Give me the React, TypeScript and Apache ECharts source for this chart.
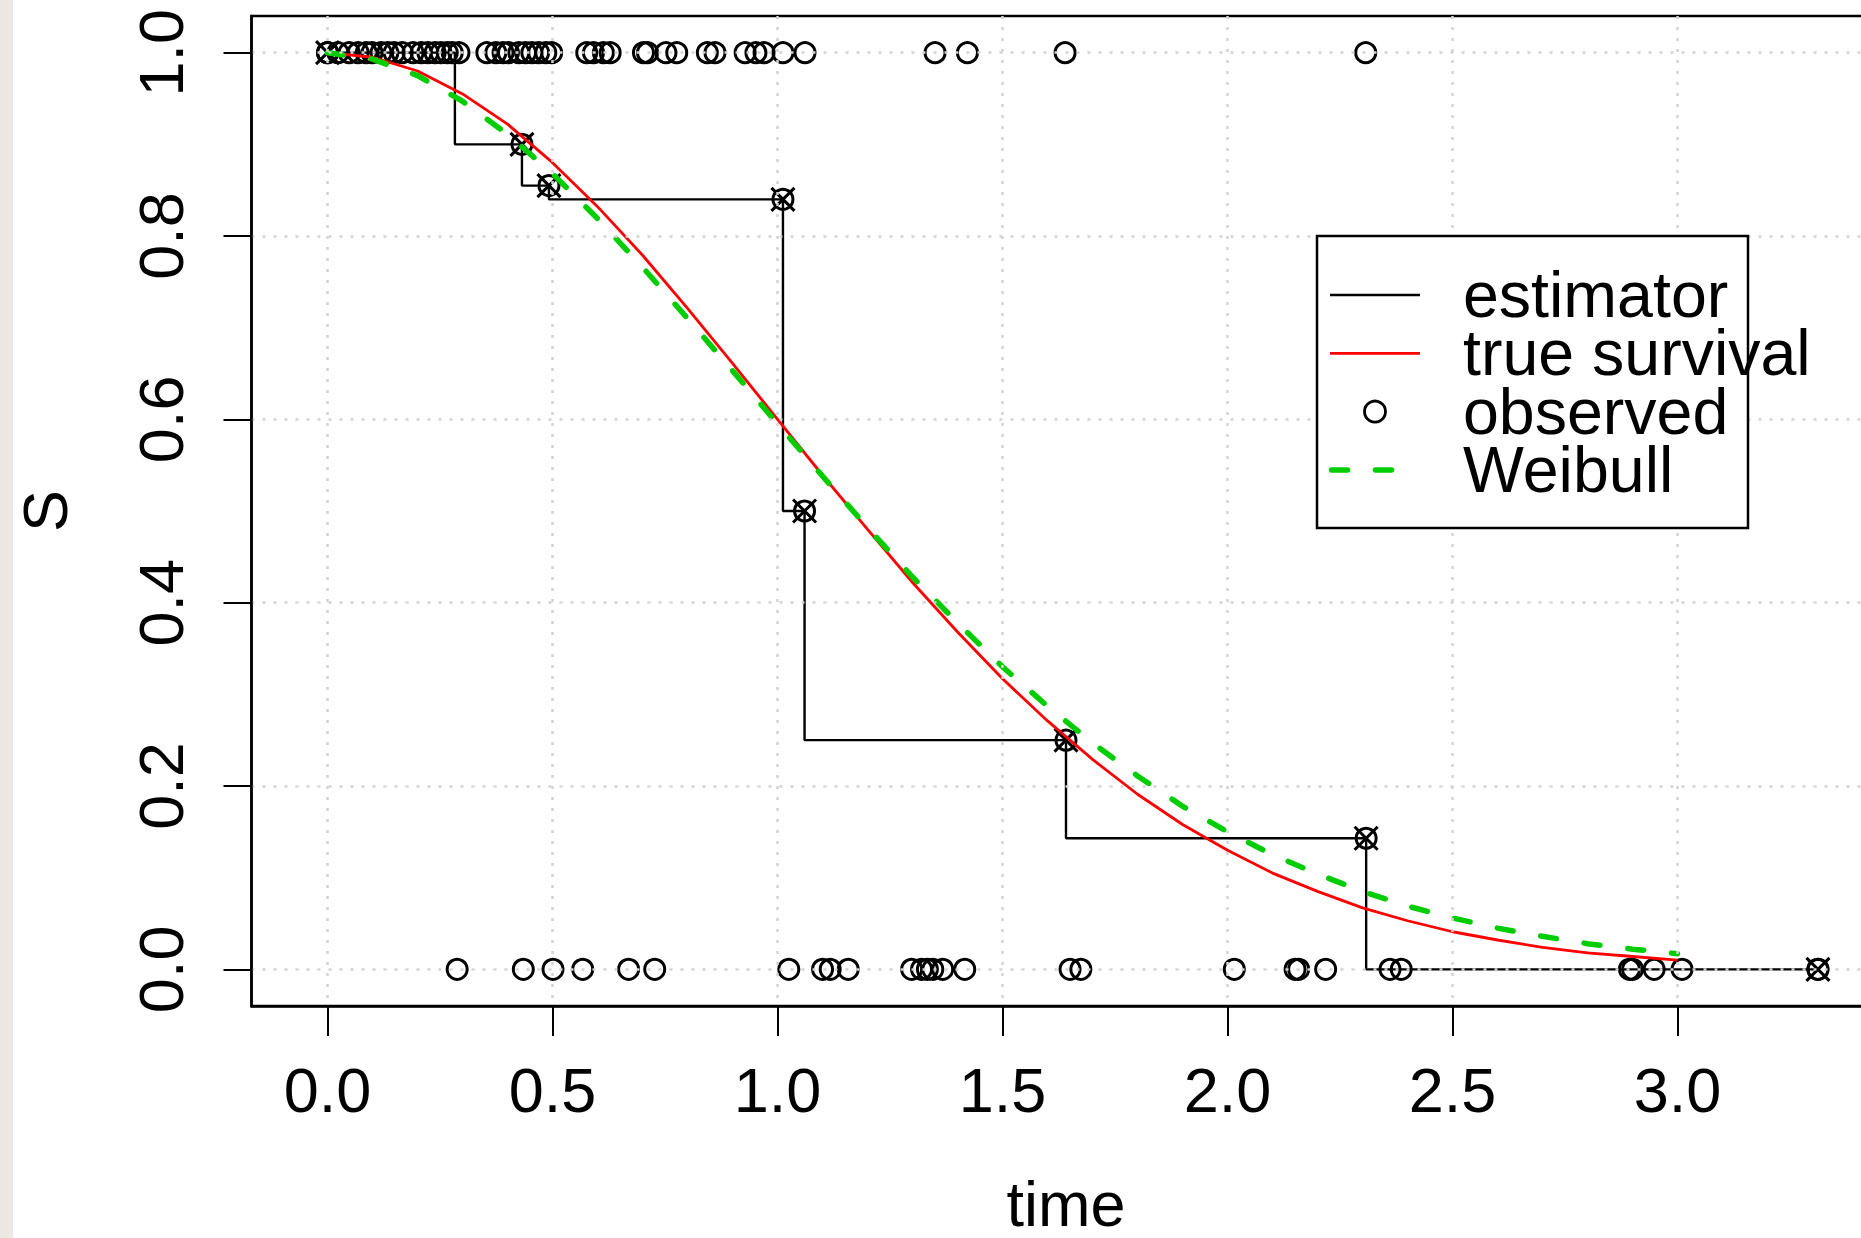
import React, { useEffect, useRef } from "react";
import * as echarts from "echarts";

// ---- data ----
const xTicks = [0, 0.5, 1.0, 1.5, 2.0, 2.5, 3.0];
const yTicks = [0, 0.2, 0.4, 0.6, 0.8, 1.0];

// estimator (step function)
const stepTimes = [0, 0.283, 0.432, 0.492, 1.012, 1.06, 1.641, 2.308, 3.312];
const stepS = [1, 0.9, 0.855, 0.84, 0.5, 0.25, 0.143, 0, 0];

// crossed markers on the estimator
const markTimes = [0, 0.432, 0.492, 1.012, 1.06, 1.641, 2.308, 3.312];
const markS = [1, 0.9, 0.855, 0.84, 0.5, 0.25, 0.143, 0];

// observed points at S = 1
const topTimes = [
  0, 0.023, 0.048, 0.068, 0.086, 0.099, 0.119, 0.134, 0.148, 0.166, 0.19, 0.208,
  0.223, 0.239, 0.252, 0.266, 0.277, 0.292, 0.354, 0.374, 0.39, 0.402, 0.425, 0.44,
  0.454, 0.469, 0.485, 0.498, 0.576, 0.591, 0.613, 0.628, 0.702, 0.711, 0.752, 0.776,
  0.844, 0.861, 0.928, 0.952, 0.97, 1.012, 1.061, 1.35, 1.422, 1.639, 2.307,
];
// observed points at S = 0
const bottomTimes = [
  0.288, 0.435, 0.501, 0.567, 0.669, 0.727, 1.025, 1.1, 1.117, 1.157, 1.298, 1.32,
  1.333, 1.345, 1.367, 1.416, 1.65, 1.674, 2.015, 2.15, 2.158, 2.218, 2.361, 2.386,
  2.893, 2.9, 2.948, 3.01, 3.312,
];

// smooth curves
const curveTimes = [
  0, 0.1, 0.2, 0.3, 0.4, 0.5, 0.6, 0.7, 0.8, 0.9, 1.0, 1.1, 1.2, 1.3, 1.4, 1.5, 1.6,
  1.7, 1.8, 1.9, 2.0, 2.1, 2.2, 2.3, 2.4, 2.5, 2.6, 2.7, 2.8, 2.9, 3.0,
];
const trueSurvival = [
  1, 0.995, 0.98, 0.955, 0.922, 0.88, 0.832, 0.779, 0.721, 0.661, 0.6, 0.539, 0.48,
  0.422, 0.368, 0.317, 0.271, 0.229, 0.191, 0.158, 0.13, 0.105, 0.085, 0.067, 0.053,
  0.041, 0.032, 0.024, 0.018, 0.014, 0.01,
];
const weibullFit = [
  1, 0.993, 0.975, 0.947, 0.911, 0.868, 0.819, 0.766, 0.71, 0.653, 0.595, 0.538,
  0.482, 0.428, 0.378, 0.33, 0.287, 0.247, 0.211, 0.178, 0.15, 0.125, 0.104, 0.085,
  0.069, 0.056, 0.045, 0.036, 0.028, 0.022, 0.017,
];

const legendLabels = ["estimator", "true survival", "observed", "Weibull"];

const FONT = "'Liberation Sans', Arial, Helvetica, sans-serif";
const FS = 63;
const LEGEND_FS = 64.5;

export default function App() {
  const ref = useRef<HTMLDivElement>(null);

  useEffect(() => {
    if (!ref.current) return;
    const chart = echarts.init(ref.current, undefined, { renderer: "svg" });

    const pairs = (xs: number[], ys: number[]) => xs.map((x, i) => [x, ys[i]]);
    const circleStyle = {
      color: "rgba(0,0,0,0)",
      borderColor: "#000",
      borderWidth: 3,
      opacity: 1,
    };

    const legendRowY = [295, 353.3, 411.6, 470];
    const rowStep = (legendRowY[3] - legendRowY[0]) / 3;
    const lx1 = 1330;
    const lx2 = 1420;

    const option: any = {
      animation: false,
      backgroundColor: "#ffffff",
      grid: {
        left: 251.5,
        top: 16,
        width: 1629,
        height: 990,
        show: true,
        borderColor: "#000",
        borderWidth: 2.5,
        backgroundColor: "rgba(0,0,0,0)",
        containLabel: false,
        outerBoundsMode: "none",
      },
      xAxis: {
        type: "value",
        min: -0.169,
        max: 3.451,
        z: 10,
        name: "time",
        nameLocation: "middle",
        nameGap: 166,
        nameTextStyle: { fontSize: FS, fontFamily: FONT, color: "#000" },
        axisLine: { show: true, onZero: false, lineStyle: { color: "#000", width: 2.5 } },
        axisTick: {
          show: true,
          customValues: xTicks,
          length: 30,
          lineStyle: { color: "#000", width: 2 },
        },
        axisLabel: {
          customValues: xTicks,
          fontSize: FS,
          fontFamily: FONT,
          color: "#000",
          margin: 52,
          formatter: (v: number) => v.toFixed(1),
        },
        splitLine: {
          show: true,
          lineStyle: { color: "#d3d3d3", width: 2.5, type: [3, 8] },
        },
      },
      yAxis: {
        type: "value",
        min: -0.04,
        max: 1.04,
        z: 10,
        name: "S",
        nameLocation: "middle",
        nameRotate: 90,
        nameGap: 175,
        nameTextStyle: { fontSize: FS, fontFamily: FONT, color: "#000" },
        axisLine: { show: true, onZero: false, lineStyle: { color: "#000", width: 2.5 } },
        axisTick: {
          show: true,
          customValues: yTicks,
          length: 28,
          lineStyle: { color: "#000", width: 2 },
        },
        axisLabel: {
          customValues: yTicks,
          rotate: 90,
          fontSize: FS,
          fontFamily: FONT,
          color: "#000",
          margin: 59,
          formatter: (v: number) => v.toFixed(1),
        },
        splitLine: {
          show: true,
          lineStyle: { color: "#d3d3d3", width: 2.5, type: [3, 8] },
        },
      },
      series: [
        {
          name: "estimator",
          type: "line",
          step: "end",
          data: pairs(stepTimes, stepS),
          showSymbol: false,
          silent: true,
          lineStyle: { color: "#000", width: 2.4 },
        },
        {
          name: "true survival",
          type: "line",
          data: pairs(curveTimes, trueSurvival),
          showSymbol: false,
          silent: true,
          lineStyle: { color: "#ff0000", width: 2.8 },
        },
        {
          name: "observed",
          type: "scatter",
          data: topTimes.map((t) => [t, 1]).concat(bottomTimes.map((t) => [t, 0])),
          symbol: "circle",
          symbolSize: 20,
          silent: true,
          itemStyle: circleStyle,
        },
        {
          name: "estimator marks",
          type: "scatter",
          data: pairs(markTimes, markS),
          symbol: "circle",
          symbolSize: 20,
          silent: true,
          itemStyle: circleStyle,
        },
        {
          name: "estimator crosses",
          type: "scatter",
          data: pairs(markTimes, markS),
          symbol: "path://M0,0L20,20M20,0L0,20",
          symbolSize: 23,
          silent: true,
          itemStyle: circleStyle,
        },
        {
          name: "Weibull",
          type: "line",
          data: pairs(curveTimes, weibullFit),
          showSymbol: false,
          silent: true,
          lineStyle: { color: "#00cd00", width: 5.5, type: [16, 28], cap: "round" },
        },
      ],
      graphic: [
        {
          type: "rect",
          z: -1,
          silent: true,
          shape: { x: 0, y: 0, width: 13, height: 1238 },
          style: { fill: "#ebe8e3" },
        },
        {
          type: "rect",
          z: 100,
          silent: true,
          shape: { x: 1317, y: 236, width: 431, height: 292 },
          style: { fill: "#ffffff", stroke: "#000", lineWidth: 2.5 },
        },
        {
          type: "line",
          z: 101,
          silent: true,
          shape: { x1: lx1, y1: legendRowY[0], x2: lx2, y2: legendRowY[0] },
          style: { stroke: "#000", lineWidth: 2.4 },
        },
        {
          type: "line",
          z: 101,
          silent: true,
          shape: { x1: lx1, y1: legendRowY[1], x2: lx2, y2: legendRowY[1] },
          style: { stroke: "#ff0000", lineWidth: 2.8 },
        },
        {
          type: "circle",
          z: 101,
          silent: true,
          shape: { cx: (lx1 + lx2) / 2, cy: legendRowY[2], r: 10.5 },
          style: { fill: "rgba(0,0,0,0)", stroke: "#000", lineWidth: 2.8 },
        },
        {
          type: "line",
          z: 101,
          silent: true,
          shape: { x1: lx1 + 1.5, y1: legendRowY[3], x2: lx2 - 3, y2: legendRowY[3] },
          style: { stroke: "#00cd00", lineWidth: 5.5, lineDash: [16, 28], lineCap: "round" },
        },
        {
          type: "text",
          z: 102,
          silent: true,
          x: 1463,
          y: (legendRowY[0] + legendRowY[3]) / 2,
          style: {
            text: legendLabels.join("\n"),
            fontSize: LEGEND_FS,
            lineHeight: rowStep,
            fontFamily: FONT,
            fill: "#000",
            align: "left",
            verticalAlign: "middle",
          },
        },
      ],
    };

    chart.setOption(option);
    return () => {
      chart.dispose();
    };
  }, []);

  return (
    <div
      ref={ref}
      style={{
        position: "absolute",
        left: 0,
        top: 0,
        width: 1861,
        height: 1238,
        background: "#ffffff",
      }}
    />
  );
}
